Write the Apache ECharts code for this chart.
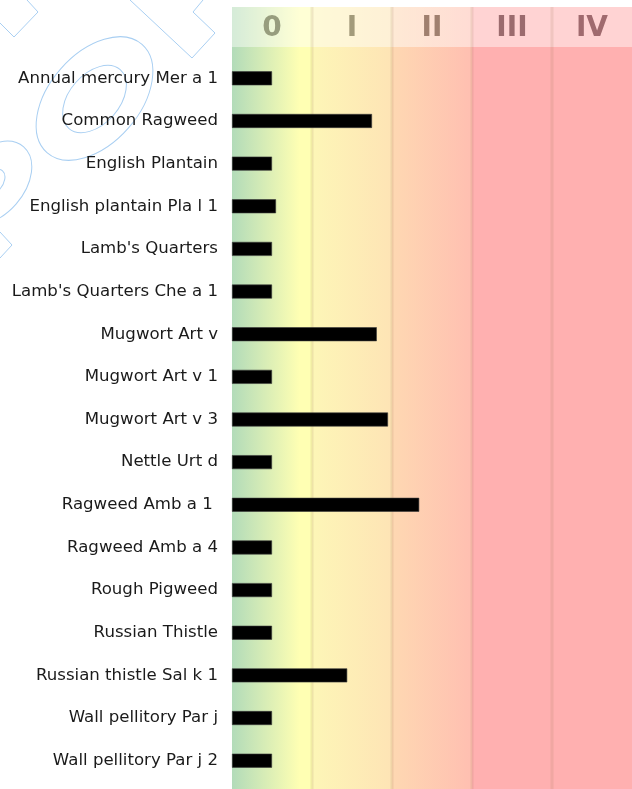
<!DOCTYPE html>
<html>
<head>
<meta charset="utf-8">
<script src="https://cdn.jsdelivr.net/npm/echarts@6/dist/echarts.min.js"></script>
<style>
  html, body { margin: 0; padding: 0; background: #fff; }
  #main { width: 632px; height: 789px; }
</style>
</head>
<body>
<div id="main"></div>
<script>
var allergens = [
  "Annual mercury Mer a 1",
  "Common Ragweed",
  "English Plantain",
  "English plantain Pla l 1",
  "Lamb's Quarters",
  "Lamb's Quarters Che a 1",
  "Mugwort Art v",
  "Mugwort Art v 1",
  "Mugwort Art v 3",
  "Nettle Urt d",
  "Ragweed Amb a 1 ",
  "Ragweed Amb a 4",
  "Rough Pigweed",
  "Russian Thistle",
  "Russian thistle Sal k 1",
  "Wall pellitory Par j",
  "Wall pellitory Par j 2"
];
var classValues = [0.5, 1.75, 0.5, 0.55, 0.5, 0.5, 1.81, 0.5, 1.95, 0.5, 2.34, 0.5, 0.5, 0.5, 1.44, 0.5, 0.5];
var classLabels = ["0", "I", "II", "III", "IV"];

// background colour of each class column (left -> right)
var columnColors = [
  ["#b2dbb9", "#ffffb3"],
  ["#fdf6b7", "#fee4b5"],
  ["#fed8b2", "#ffbfb1"],
  ["#ffb0b0", "#ffb0b0"],
  ["#ffb0b0", "#ffb0b0"]
];
var headerTextColors = ["#979d7e", "#a39b7b", "#a0806f", "#9b6b6e", "#a06a6e"];

var myChart = echarts.init(document.getElementById("main"));

var option = {
  animation: false,
  grid: { left: 232, right: 0, top: 57, bottom: 7 },
  xAxis: [
    { type: "value", min: 0, max: 5, interval: 1, show: false },
    {
      type: "category",
      position: "top",
      data: classLabels,
      axisLine: { show: false },
      axisTick: { show: false },
      axisLabel: {
        margin: 14,
        fontSize: 28,
        fontWeight: "bold",
        fontFamily: "DejaVu Sans",
        color: function (value, index) {
          return headerTextColors[index];
        }
      }
    }
  ],
  yAxis: {
    type: "category",
    inverse: true,
    data: allergens,
    axisLine: { show: false },
    axisTick: { show: false },
    axisLabel: {
      margin: 14,
      fontSize: 16.6,
      fontFamily: "DejaVu Sans",
      color: "#1a1a1a"
    }
  },
  series: [
    {
      type: "bar",
      xAxisIndex: 0,
      data: classValues,
      barWidth: 14,
      itemStyle: { color: "#000", borderColor: "#3a3a3a", borderWidth: 0.6 },
      z: 10
    }
  ]
};
myChart.setOption(option);

// ---- background columns, header band, separators and watermark ----
var els = [];
var bgTop = 7, bgBottom = 789, headerH = 40;
for (var i = 0; i < classLabels.length; i++) {
  var x1 = myChart.convertToPixel({ xAxisIndex: 0 }, i);
  var x2 = myChart.convertToPixel({ xAxisIndex: 0 }, i + 1);
  els.push({
    type: "rect", z: -3, silent: true,
    shape: { x: x1, y: bgTop, width: x2 - x1, height: bgBottom - bgTop },
    style: {
      fill: new echarts.graphic.LinearGradient(0, 0, 1, 0, [
        { offset: 0, color: columnColors[i][0] },
        { offset: i === 0 ? 0.85 : 1, color: columnColors[i][1] },
        { offset: 1, color: columnColors[i][1] }
      ])
    }
  });
  els.push({
    type: "rect", z: -2, silent: true,
    shape: { x: x1, y: bgTop, width: x2 - x1, height: headerH },
    style: { fill: "rgba(255,255,255,0.45)" }
  });
  if (i > 0) {
    els.push({
      type: "line", z: -1, silent: true,
      shape: { x1: x1, y1: bgTop, x2: x1, y2: bgBottom },
      style: { stroke: "rgba(150,110,80,0.14)", lineWidth: 3 }
    });
  }
}

var wm = { stroke: "#a9cff2", lineWidth: 1, fill: null };
els.push({ type: "polyline", z: -1, silent: true, shape: { points: [[0, 23], [14, 37], [38, 12], [27, 0]] }, style: wm });
els.push({ type: "polyline", z: -1, silent: true, shape: { points: [[130, 0], [192, 58], [215, 33], [193, 12], [203, 0]] }, style: wm });
els.push({ type: "polyline", z: -1, silent: true, shape: { points: [[0, 232], [12, 245], [0, 258]] }, style: wm });
els.push({ type: "ellipse", z: -1, silent: true, x: 94.5, y: 98.5, rotation: 0.85, shape: { cx: 0, cy: 0, rx: 72, ry: 45 }, style: wm });
els.push({ type: "ellipse", z: -1, silent: true, x: 94.5, y: 99, rotation: 0.85, shape: { cx: 0, cy: 0, rx: 39, ry: 25 }, style: wm });
els.push({ type: "ellipse", z: -1, silent: true, x: -8, y: 183, rotation: 0.85, shape: { cx: 0, cy: 0, rx: 48, ry: 32 }, style: wm });
els.push({ type: "ellipse", z: -1, silent: true, x: -8, y: 183, rotation: 0.85, shape: { cx: 0, cy: 0, rx: 16, ry: 10 }, style: wm });

myChart.setOption({ graphic: { elements: els } });
</script>
</body>
</html>
